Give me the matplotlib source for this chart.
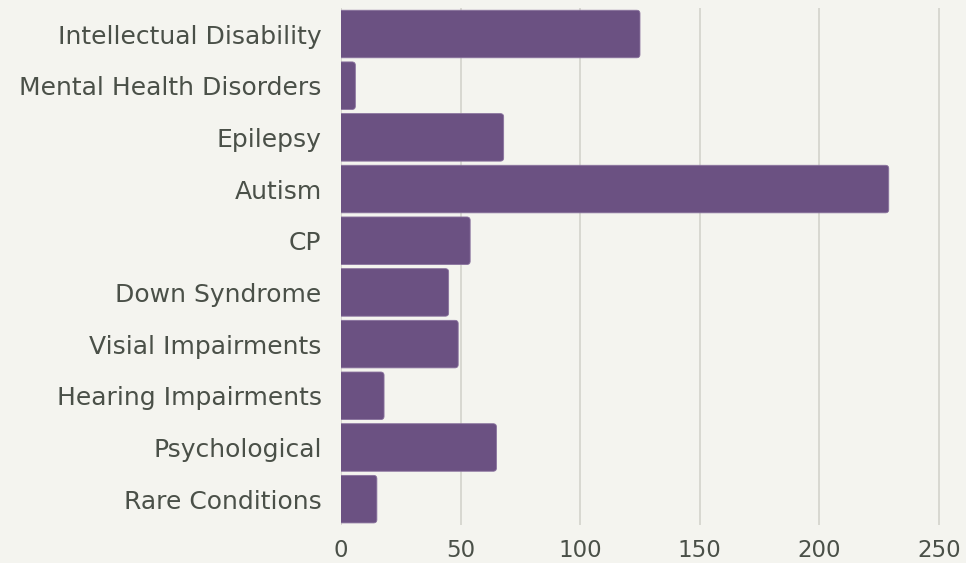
import matplotlib.pyplot as plt
from matplotlib.patches import FancyBboxPatch

categories = ['Intellectual Disability', 'Mental Health Disorders', 'Epilepsy', 'Autism', 'CP',
              'Down Syndrome', 'Visial Impairments', 'Hearing Impairments', 'Psychological',
              'Rare Conditions']
values = [125, 6, 68, 229, 54, 45, 49, 18, 65, 15]
xticks = [0, 50, 100, 150, 200, 250]

bg = '#f4f4ef'
bar_color = '#6b5182'
text_color = '#4a5048'

plt.rcParams['font.family'] = ['DejaVu Sans']

fig = plt.figure(figsize=(9.66, 5.63), dpi=100, facecolor=bg)
ax = fig.add_axes([0.353, 0.0675, 0.647, 0.918], facecolor=bg)

y = list(range(len(categories)))
bars = ax.barh(y, values, height=0.92, color='none', zorder=3)

# swap each bar for a rounded one (left side hidden past the axis)
for b in bars:
    x0, y0 = b.get_x(), b.get_y()
    w, h = b.get_width(), b.get_height()
    p = FancyBboxPatch((x0 - 3, y0), w + 3, h,
                       boxstyle='round,pad=0,rounding_size=1.4',
                       mutation_aspect=0.045,
                       facecolor=bar_color, edgecolor='#8a739e', linewidth=0.6, zorder=3)
    ax.add_patch(p)

ax.set_ylim(len(categories) - 0.5, -0.5)
ax.set_xlim(0, 261.3)
ax.set_yticks(y)
ax.set_yticklabels(categories)
ax.set_xticks(xticks)

ax.grid(axis='x', color='#d3d3cc', linewidth=1.2, zorder=0)
ax.tick_params(axis='y', length=0, pad=14, labelsize=18, labelcolor=text_color)
ax.tick_params(axis='x', length=0, pad=10, labelsize=16.5, labelcolor=text_color)
for s in ax.spines.values():
    s.set_visible(False)

fig.savefig('out.png', dpi=100, facecolor=bg)
